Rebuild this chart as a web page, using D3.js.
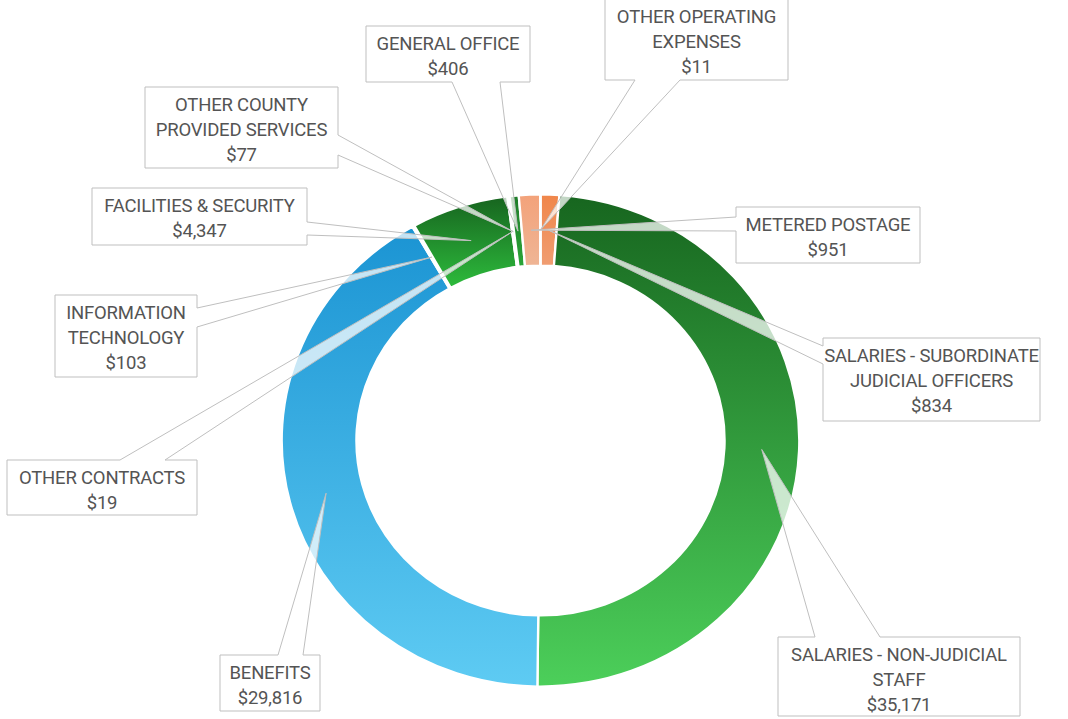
<!DOCTYPE html>
<html>
<head>
<meta charset="utf-8">
<script src="https://cdn.jsdelivr.net/npm/d3@7"></script>
<style>
  html, body { margin: 0; padding: 0; background: #ffffff; }
  svg { display: block; }
</style>
</head>
<body>
<svg id="chart" width="1068" height="719"></svg>
<script>
// ---------- DATA ----------
const categories = [
  "SALARIES - SUBORDINATE JUDICIAL OFFICERS",
  "SALARIES - NON-JUDICIAL STAFF",
  "BENEFITS",
  "INFORMATION TECHNOLOGY",
  "FACILITIES & SECURITY",
  "OTHER CONTRACTS",
  "OTHER COUNTY PROVIDED SERVICES",
  "GENERAL OFFICE",
  "METERED POSTAGE",
  "OTHER OPERATING EXPENSES"
];
const values = [834, 35171, 29816, 103, 4347, 19, 77, 406, 951, 11];
const labelLines = [
  ["SALARIES - SUBORDINATE", "JUDICIAL OFFICERS"],
  ["SALARIES - NON-JUDICIAL", "STAFF"],
  ["BENEFITS"],
  ["INFORMATION", "TECHNOLOGY"],
  ["FACILITIES & SECURITY"],
  ["OTHER CONTRACTS"],
  ["OTHER COUNTY", "PROVIDED SERVICES"],
  ["GENERAL OFFICE"],
  ["METERED POSTAGE"],
  ["OTHER OPERATING", "EXPENSES"]
];

// ---------- STYLE / LAYOUT ----------
const sliceColors = [
  ["#f0864a", "#f09d72"],
  ["#17661f", "#4ccf5a"],
  ["#1b94d3", "#5ecbf3"],
  ["#bfe6f6", "#bfe6f6"],
  ["#17641f", "#2dbb3c"],
  ["#cfe8cf", "#cfe8cf"],
  ["#d5ecd5", "#d5ecd5"],
  ["#1f7d2a", "#2aa537"],
  ["#f3a27a", "#efb595"],
  ["#f6d2bf", "#f6d2bf"]
];
// callout boxes: [x0, y0, x1, y1], wedge side, wedge base range on that side
const callouts = [
  { box: [823, 338, 1040, 421], side: "left",   base: [346, 364] },
  { box: [778, 637, 1020, 716], side: "top",    base: [815, 880] },
  { box: [220, 655, 320, 711],  side: "top",    base: [278, 303] },
  { box: [55, 295, 197, 377],   side: "right",  base: [308, 327] },
  { box: [92, 188, 307, 245],   side: "right",  base: [222, 235] },
  { box: [7, 460, 197, 515],    side: "top",    base: [120, 165] },
  { box: [145, 87, 338, 168],   side: "right",  base: [135, 155] },
  { box: [366, 26, 530, 82],    side: "bottom", base: [452, 500] },
  { box: [736, 207, 920, 263],  side: "left",   base: [217, 231] },
  { box: [605, -1, 788, 80],    side: "bottom", base: [635, 680] }
];

const cx = 540.5, cy = 440.5, outerR = 246, innerR = 175, sx = 1.052;

const svg = d3.select("#chart");
const defs = svg.append("defs");

sliceColors.forEach((c, i) => {
  const g = defs.append("linearGradient")
    .attr("id", "grad" + i)
    .attr("x1", 0).attr("y1", 0).attr("x2", 0).attr("y2", 1);
  g.append("stop").attr("offset", "0%").attr("stop-color", c[0]);
  g.append("stop").attr("offset", "100%").attr("stop-color", c[1]);
});

const data = categories.map((c, i) => ({ name: c, value: values[i], idx: i }));

const pie = d3.pie().value(d => d.value).sort(null).startAngle(0).endAngle(2 * Math.PI);
const arcs = pie(data);
const arc = d3.arc().innerRadius(innerR).outerRadius(outerR);

const donut = svg.append("g")
  .attr("transform", `translate(${cx},${cy}) scale(${sx},1)`);

donut.selectAll("path.slice")
  .data(arcs)
  .join("path")
  .attr("class", "slice")
  .attr("d", arc)
  .attr("fill", d => `url(#grad${d.data.idx})`)
  .attr("stroke", "#ffffff")
  .attr("stroke-width", 2.2)
  .attr("stroke-linejoin", "round");

const fmt = d3.format("$,");

function calloutPath(co, tip) {
  const [x0, y0, x1, y1] = co.box;
  const [a, b] = co.base;
  const t = `L${tip[0]},${tip[1]}`;
  let p = `M${x0},${y0}`;
  if (co.side === "top") p += `L${a},${y0}${t}L${b},${y0}`;
  p += `L${x1},${y0}`;
  if (co.side === "right") p += `L${x1},${a}${t}L${x1},${b}`;
  p += `L${x1},${y1}`;
  if (co.side === "bottom") p += `L${b},${y1}${t}L${a},${y1}`;
  p += `L${x0},${y1}`;
  if (co.side === "left") p += `L${x0},${b}${t}L${x0},${a}`;
  return p + "Z";
}

const labels = svg.append("g");
arcs.forEach((d, i) => {
  const co = callouts[i];
  const c = arc.centroid(d);
  const tip = [cx + sx * c[0], cy + c[1]];
  labels.append("path")
    .attr("d", calloutPath(co, tip))
    .attr("fill", "#ffffff")
    .attr("fill-opacity", 0.74)
    .attr("stroke", "#bfbfbf")
    .attr("stroke-width", 1);
});

arcs.forEach((d, i) => {
  const co = callouts[i];
  const [x0, y0, x1] = co.box;
  const lines = labelLines[i].concat([fmt(d.data.value)]);
  const midX = (x0 + x1) / 2;
  const t = labels.append("text")
    .attr("text-anchor", "middle")
    .attr("font-family", "Roboto, 'Open Sans', sans-serif")
    .attr("font-size", 18.5)
    .attr("letter-spacing", -0.2)
    .attr("fill", "#545454");
  lines.forEach((ln, k) => {
    t.append("tspan")
      .attr("x", midX)
      .attr("y", y0 + 24 + k * 25)
      .text(ln);
  });
});
</script>
</body>
</html>
